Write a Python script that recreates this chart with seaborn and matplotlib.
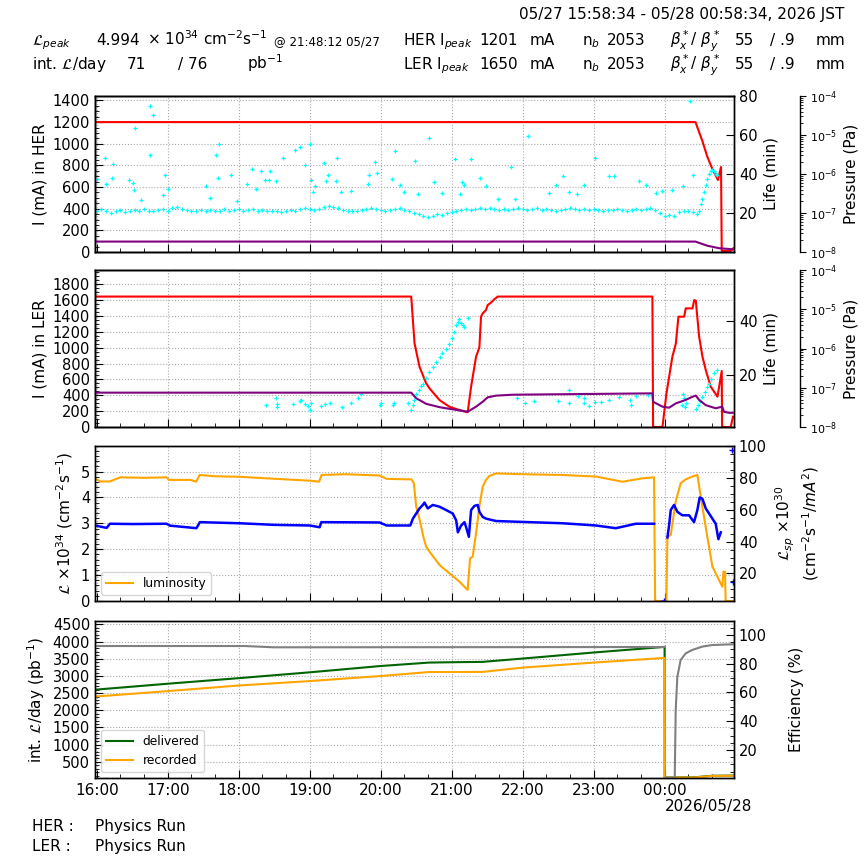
import matplotlib
matplotlib.use('Agg')
import numpy as np
import pandas as pd
import matplotlib.pyplot as plt
import matplotlib.dates as mdates
from matplotlib.ticker import MultipleLocator, AutoMinorLocator, LogLocator
import seaborn as sns

# all times are minutes after 05/27 16:00 (JST)

# --- HER panel ---
HER_CUR_MIN = [-1.5, 506, 512, 516, 520, 525, 527.6, 528.2, 536, 538]
HER_CUR = [1200, 1200, 1020, 880, 775, 665, 785, 10, 10, 35]

HER_PRES_MIN = [-1.5, 506, 516, 526, 538]
HER_PRES = [1.85e-8, 1.85e-8, 1.45e-8, 1.25e-8, 1.17e-8]

HER_LIFE_MIN = [0, 4, 8, 12, 16, 20, 24, 28, 32, 36,
                40, 44, 48, 52, 56, 60, 64, 68, 72, 76,
                80, 84, 88, 92, 96, 100, 104, 108, 112, 116,
                120, 124, 128, 132, 136, 140, 144, 148, 152, 156,
                160, 164, 168, 172, 176, 180, 184, 188, 192, 196,
                200, 204, 208, 212, 216, 220, 224, 228, 232, 236,
                240, 244, 248, 252, 256, 260, 264, 268, 272, 276,
                280, 284, 288, 292, 296, 300, 304, 308, 312, 316,
                320, 324, 328, 332, 336, 340, 344, 348, 352, 356,
                360, 364, 368, 372, 376, 380, 384, 388, 392, 396,
                400, 404, 408, 412, 416, 420, 424, 428, 432, 436,
                440, 444, 448, 452, 456, 460, 464, 468, 472, 476,
                480, 484, 488, 492, 496, 500, 504]
HER_LIFE = [21.0, 22.5, 21.0, 20.0, 21.5, 22.0, 20.5, 21.5, 22.0, 21.0,
            22.5, 21.5, 21.5, 22.0, 22.5, 21.0, 23.0, 23.5, 22.5, 22.0,
            21.5, 21.0, 22.0, 21.5, 22.0, 21.0, 21.5, 22.5, 21.5, 22.0,
            22.5, 21.5, 22.0, 22.5, 21.5, 22.0, 21.0, 21.5, 21.0, 20.5,
            21.0, 22.0, 21.5, 22.5, 23.0, 22.5, 22.0, 22.5, 23.5, 24.0,
            23.5, 23.0, 22.0, 21.5, 21.0, 21.5, 22.0, 22.5, 23.0, 22.5,
            22.0, 21.5, 22.0, 22.5, 23.0, 22.0, 21.0, 20.0, 19.5, 18.5,
            18.0, 18.5, 19.5, 19.0, 20.0, 20.5, 21.5, 22.0, 22.5, 22.0,
            22.5, 23.0, 22.5, 23.0, 22.5, 22.0, 22.5, 22.0, 22.5, 23.0,
            22.5, 22.0, 22.5, 23.0, 22.0, 22.5, 22.0, 21.5, 22.0, 22.5,
            23.0, 22.5, 22.0, 22.5, 22.0, 22.5, 22.0, 21.5, 22.0, 22.0,
            22.5, 22.0, 21.5, 22.0, 22.5, 22.0, 22.5, 23.0, 22.0, 20.0,
            18.5, 19.0, 18.5, 20.5, 21.0, 21.5, 20.5]
HER_OUT_MIN = [0, 7.3, 14, 7.8, 12.9, 32.3, 45.2, 47.8, 45.2, 27.3,
               30.4, 31.5, 37.7, 57.6, 60.4, 56.3, 92, 95.6, 100.7, 103.2,
               102.3, 113.3, 118.6, 126.8, 131.3, 134.4, 138.6, 142, 146, 146.5,
               157.5, 151.3, 167.3, 171.8, 175.8, 180, 180.8, 182.8, 184.8, 192.4,
               194.1, 195.4, 203.3, 202.5, 206.4, 214.6, 229.2, 235.4, 236.8, 230.5,
               249.2, 252.3, 255.9, 260.1, 268.6, 271.4, 281.2, 285.4, 303.2, 316,
               308.5, 310.2, 291.6, 307, 324.3, 329, 350.4, 353.8, 364.2, 388.1,
               393.7, 421, 411.4, 433.1, 437.3, 458.4, 464, 472.5, 478, 486,
               495.8, 501.5, 504.3, 338.9, 382.5, 399.3, 406]
HER_OUT = [37.8, 48.4, 45.3, 35.2, 38.1, 63.9, 74.9, 70.1, 50.1, 36.9,
           35.7, 31.8, 27.0, 39.8, 32.6, 29.2, 33.8, 28.0, 50.1, 55.7,
           38.3, 39.8, 26.2, 34.9, 42.9, 32.3, 41.5, 37.3, 37.3, 41.5,
           48.5, 36.4, 52.6, 53.7, 45.0, 55.7, 37.3, 30.9, 34.2, 46.0,
           36.4, 39.8, 48.4, 36.7, 30.8, 31.3, 35.0, 46.3, 40.5, 39.5,
           37.8, 51.8, 34.4, 30.9, 46.7, 30.1, 58.3, 36.1, 47.7, 47.7,
           36.1, 34.4, 30.6, 29.8, 38.3, 33.8, 43.8, 27.2, 59.5, 34.4,
           39.0, 48.5, 34.4, 39.0, 39.0, 36.4, 34.4, 30.6, 31.3, 32.1,
           34.0, 77.4, 39.5, 27.5, 30.3, 31.0, 29.8]
HER_RISE_MIN = [507.6, 509, 510.4, 511.8, 513.2, 514.7, 516.1, 517.5, 518.9, 520.3, 521.7, 523.1, 524.5]
HER_RISE = [19.8, 21.5, 25.0, 27.5, 30.9, 34.4, 37.8, 40.3, 41.5, 42.0, 41.5, 40.3, 39.5]

# --- LER panel ---
LER_CUR_MIN = [-1.5, 265.8, 268.6, 272.8, 278.4, 281.2, 289.7, 298, 306.5, 313.5,
               316.4, 320.6, 323.4, 324.8, 326.2, 329, 330.4, 333.2, 336, 338.9,
               469.6, 470.2, 478.1, 481.5, 486.5, 489.4, 491.6, 496.4, 497.8, 503.5,
               504.9, 506.3, 509.1, 511.9, 514.7, 518.9, 524.6, 528.2, 528.5, 535.8, 537.7]
LER_CUR = [1645, 1645, 1055, 760, 551, 488, 340, 256, 214, 185,
           509, 887, 1005, 1391, 1433, 1475, 1538, 1568, 1610, 1645,
           1645, 0, 0, 425, 887, 1051, 1391, 1391, 1496, 1496,
           1601, 1593, 1139, 887, 719, 509, 382, 706, 0, 0, 130]

LER_PRES_MIN = [-1.5, 265.8, 270, 278.4, 289.7, 295.3, 313.5, 320.6, 326.2, 330.4,
                337.5, 351.6, 469.6, 470.2, 478.1, 483.7, 489.4, 497.8, 503.5, 506.3,
                509.1, 514.7, 523.1, 528.7, 530.1, 534.3, 537.7]
LER_PRES = [7.5e-8, 7.5e-8, 5.4e-8, 3.9e-8, 3.2e-8, 3.0e-8, 2.45e-8, 3.3e-8, 4.4e-8, 5.7e-8,
            6.3e-8, 6.65e-8, 7.2e-8, 4.4e-8, 3.3e-8, 3.1e-8, 4.0e-8, 4.9e-8, 5.9e-8, 6.3e-8,
            4.9e-8, 3.6e-8, 3.0e-8, 3.3e-8, 2.45e-8, 2.3e-8, 2.3e-8]

LER_RAMP_MIN = [265.8, 267, 268.5, 270, 272, 274, 275.6, 278, 281.2, 284,
                287, 289.7, 292, 295, 298.1, 300, 302, 303.8, 305, 306.5,
                308, 309.4, 310.8, 313.5,
                506.3, 508, 510, 511.9, 514, 516, 517.5, 519.5, 521.7, 524.5]
LER_RAMP = [7.1, 9.0, 11.0, 13.2, 14.5, 16.0, 16.9, 19.0, 21.2, 23.0,
            25.0, 26.7, 28.2, 29.8, 31.6, 33.5, 36.0, 38.4, 39.5, 40.5,
            39.2, 38.4, 37.8, 40.9,
            7.7, 9.0, 10.5, 12.0, 13.8, 15.5, 16.9, 18.5, 20.6, 21.8]
LER_OUT_MIN = [142.8, 151.3, 152.4, 152.7, 165.9, 171.5, 172.9, 175.8, 178.6, 180,
               180.8, 189.8, 192.6, 196.8, 207.2, 214.5, 220.7, 223.5, 239, 240.4,
               250.3, 251.1, 262.9, 354.9, 362.3, 369.3, 389.5, 399.4, 398.8, 407,
               411.4, 412, 415.7, 421.3, 426.1, 433.1, 441.6, 450.8, 451.4, 455.6,
               465.5, 495.5, 496.6, 494.9, 497.8, 497.2]
LER_OUT = [8.9, 11.4, 9.2, 8.3, 9.2, 10.5, 11.0, 9.2, 8.7, 7.3,
           9.6, 8.8, 9.3, 9.6, 8.1, 9.8, 11.4, 12.9, 8.9, 9.8,
           8.9, 9.6, 9.6, 11.6, 9.8, 10.4, 10.4, 14.5, 9.6, 12.3,
           11.6, 9.8, 8.7, 10.0, 10.0, 11.0, 12.0, 10.8, 8.9, 12.3,
           12.7, 12.9, 11.6, 8.9, 9.8, 8.3]

# --- luminosity panel ---
LUM_MIN = [-1.5, 3, 11, 20, 40, 59, 61, 79, 84, 87,
           100, 121, 140, 160, 180, 188, 190, 210, 239, 245,
           266, 268, 270, 273, 276, 278.4, 281.2, 289.7, 298.1, 306.5,
           310.8, 313.5, 315.5, 317.7, 320.6, 323.4, 326.2, 329, 331.8, 337.5,
           360, 393.7, 421.8, 444.3, 461.2, 471, 471.9, 481.4, 482.3, 485.1,
           489.3, 493.5, 497.8, 503.4, 507.6, 511.8, 516, 520.3, 525.9, 528.7,
           529.6, 531, 531.5, 537.7]
LUM = [4.74, 4.62, 4.62, 4.78, 4.76, 4.78, 4.68, 4.68, 4.61, 4.87,
       4.82, 4.80, 4.75, 4.70, 4.65, 4.61, 4.87, 4.90, 4.85, 4.72,
       4.70, 4.55, 3.65, 3.13, 2.49, 2.10, 1.91, 1.39, 1.07, 0.75,
       0.55, 0.43, 1.65, 1.71, 2.62, 3.65, 4.42, 4.68, 4.83, 4.93,
       4.90, 4.87, 4.81, 4.61, 4.74, 4.78, 0, 0, 2.49, 2.55,
       3.84, 4.55, 4.70, 4.81, 4.87, 3.65, 2.49, 1.33, 0.81, 0.55,
       1.13, 1.13, 0, 0]

LSP_MIN = [-1.5, 8.4, 11.2, 30, 59, 62, 76, 84.3, 87.2, 121,
           150, 180, 188.4, 189.8, 239, 245, 265, 267.2, 270, 272.8,
           275.6, 277, 279.8, 284, 289.7, 295.3, 300.9, 303.8, 305.2, 308,
           310.8, 312.2, 314.5, 316.4, 319.2, 322, 323.4, 326.2, 329, 337.5,
           365.6, 393.7, 421.8, 438.7, 455.6, 471]
LSP = [50.1, 48.6, 51.2, 51.0, 51.2, 50.0, 49.0, 48.4, 52.2, 51.5,
       50.5, 50.1, 49.0, 52.2, 52.0, 50.1, 50.1, 54.4, 57.6, 60.8,
       63.0, 64.5, 60.8, 63.0, 61.9, 59.8, 57.6, 53.3, 45.8, 50.1,
       52.2, 49.0, 43.0, 59.8, 62.4, 63.0, 58.7, 55.5, 54.4, 52.9,
       52.2, 51.5, 50.1, 48.4, 51.2, 51.2]
LSP2_MIN = [482.3, 483.7, 485.1, 487.9, 490.7, 494.9, 500.6, 504.8, 507.6, 509.6,
            511.9, 514.7, 517.5, 520.3, 523.1, 525.4, 527.4]
LSP2 = [42.6, 50.1, 59.8, 63.0, 58.7, 56.5, 56.5, 52.2, 59.8, 67.7,
        66.8, 60.8, 57.6, 54.4, 51.2, 41.5, 45.8]
LSP_ISO_MIN = [478.1, 479.0, 537.1, 537.3]
LSP_ISO = [1.7, 2.6, 97.8, 14.6]

# --- integrated luminosity panel ---
INT_MIN = [-1.5, 60, 121, 180, 240, 281, 300, 326, 360, 420, 479.9, 480, 505, 520, 538]
DELIVERED = [2600, 2774, 2939, 3106, 3290, 3390, 3400, 3410, 3507, 3683, 3847, 45, 50, 95, 100]
RECORDED = [2400, 2559, 2725, 2851, 2998, 3115, 3115, 3118, 3243, 3390, 3525, 40, 45, 90, 95]
EFF_MIN = [-1.5, 125, 150, 479.9]
EFF = [92.3, 92.3, 91.4, 91.6]
EFF2_MIN = [480.1, 488, 488.5, 489.3, 490.7, 493.5, 497.8, 503.4, 511.8, 520.3, 537.7]
EFF2 = [0.6, 0.6, 1.4, 47.8, 71.0, 82.6, 87.2, 89.6, 91.9, 93.0, 93.5]

plt.rcParams['font.family'] = ['DejaVu Sans']
plt.rcParams['axes.linewidth'] = 1.0

W = 864
T0 = pd.Timestamp('2026-05-27 16:00:00')
X0 = pd.Timestamp('2026-05-27 15:58:34')
X1 = pd.Timestamp('2026-05-28 00:58:34')


def tt(minutes):
    return T0 + pd.to_timedelta(np.asarray(minutes, dtype=float), unit='m')


def line(ax, mins, vals, color, lw=1.5):
    df = pd.DataFrame({'t': tt(mins), 'v': np.asarray(vals, dtype=float)})
    sns.lineplot(data=df, x='t', y='v', color=color, lw=lw, sort=False,
                 estimator=None, legend=False, ax=ax)
    return ax.lines[-1]


def dots(ax, mins, vals, color, s=10):
    sns.scatterplot(x=tt(mins), y=np.asarray(vals, dtype=float), color=color,
                    marker='+', s=s, linewidth=0.9, legend=False, ax=ax)


def rect(top, bottom):
    return [95 / W, 1 - bottom / W, 639 / W, (bottom - top) / W]


def style_main(ax, ylim, step, label, show_x=False):
    ax.set_xlim(X0, X1)
    ax.set_ylim(*ylim)
    ax.yaxis.set_major_locator(MultipleLocator(step))
    ax.yaxis.set_minor_locator(AutoMinorLocator())
    ax.xaxis.set_major_locator(mdates.HourLocator())
    ax.xaxis.set_minor_locator(mdates.MinuteLocator(byminute=[20, 40]))
    ax.xaxis.set_major_formatter(mdates.DateFormatter('%H:%M'))
    ax.grid(True, which='major', ls=':', color='#aaaaaa', lw=0.8)
    ax.tick_params(which='both', direction='in', labelsize=10.5)
    ax.tick_params(which='major', length=5.5)
    ax.tick_params(which='minor', length=3)
    ax.tick_params(axis='x', labelbottom=show_x, labelsize=11)
    ax.set_xlabel('')
    ax.set_ylabel(label, fontsize=11)


def style_right(ax, ylim, step, label, minor=False, pad=4):
    ax.set_ylim(*ylim)
    ax.yaxis.set_major_locator(MultipleLocator(step))
    if minor:
        ax.yaxis.set_minor_locator(AutoMinorLocator())
    ax.tick_params(which='both', direction='in', labelsize=10.5)
    ax.tick_params(which='major', length=5.5)
    ax.tick_params(which='minor', length=3)
    ax.set_ylabel(label, fontsize=11, labelpad=pad)


def pressure_axis(ax):
    axp = ax.twinx()
    axp.spines['right'].set_position(('axes', 1.103))
    axp.set_yscale('log')
    return axp


def style_pressure(axp):
    axp.set_ylim(1e-8, 1e-4)
    axp.yaxis.set_major_locator(LogLocator(base=10, numticks=10))
    axp.yaxis.set_minor_locator(LogLocator(base=10, subs=np.arange(2, 10), numticks=10))
    axp.tick_params(which='both', direction='out', labelsize=8)
    axp.tick_params(which='major', length=4)
    axp.tick_params(which='minor', length=2)
    axp.set_ylabel('Pressure (Pa)', fontsize=11)


fig = plt.figure(figsize=(8.64, 8.64), dpi=100)

# HER currents
ax1 = fig.add_axes(rect(96, 252))
line(ax1, HER_CUR_MIN, HER_CUR, 'red')
style_main(ax1, (0, 1441), 200, 'I (mA) in HER')
ax1r = ax1.twinx()
dots(ax1r, HER_LIFE_MIN, HER_LIFE, 'cyan')
dots(ax1r, HER_OUT_MIN, HER_OUT, 'cyan')
dots(ax1r, HER_RISE_MIN, HER_RISE, 'cyan')
style_right(ax1r, (0.3, 80), 20, 'Life (min)')
ax1p = pressure_axis(ax1)
line(ax1p, HER_PRES_MIN, HER_PRES, 'purple')
style_pressure(ax1p)

# LER currents
ax2 = fig.add_axes(rect(270, 427))
line(ax2, LER_CUR_MIN, LER_CUR, 'red')
style_main(ax2, (0, 1980), 200, 'I (mA) in LER')
ax2r = ax2.twinx()
dots(ax2r, LER_RAMP_MIN, LER_RAMP, 'cyan')
dots(ax2r, LER_OUT_MIN, LER_OUT, 'cyan')
style_right(ax2r, (0.9, 58.7), 20, 'Life (min)')
ax2p = pressure_axis(ax2)
line(ax2p, LER_PRES_MIN, LER_PRES, 'purple')
style_pressure(ax2p)

# luminosity
ax3 = fig.add_axes(rect(446, 601))
lum_line = line(ax3, LUM_MIN, LUM, 'orange')
style_main(ax3, (0, 5.99), 1, r'$\mathcal{L}$ $\times 10^{34}$ (cm$^{-2}$s$^{-1}$)')
ax3r = ax3.twinx()
line(ax3r, LSP_MIN, LSP, 'blue', lw=1.8)
line(ax3r, LSP2_MIN, LSP2, 'blue', lw=1.8)
sns.scatterplot(x=tt(LSP_ISO_MIN), y=LSP_ISO, color='blue', marker='+', s=14,
                linewidth=1.0, legend=False, ax=ax3r)
style_right(ax3r, (2.7, 100), 20,
            r'$\mathcal{L}_{sp}$ $\times 10^{30}$' + '\n' + r'(cm$^{-2}$s$^{-1}$/$mA^2$)',
            minor=True, pad=5)
ax3r.yaxis.label.set_multialignment('center')
ax3.legend([lum_line], ['luminosity'], loc='lower left', fontsize=8.8, handlelength=2.2)

# integrated luminosity
ax4 = fig.add_axes(rect(621, 778))
del_line = line(ax4, INT_MIN, DELIVERED, 'darkgreen')
rec_line = line(ax4, INT_MIN, RECORDED, 'orange')
style_main(ax4, (30, 4600), 500, r'int. $\mathcal{L}$/day (pb$^{-1}$)', show_x=True)
ax4r = ax4.twinx()
line(ax4r, EFF_MIN, EFF, 'gray')
line(ax4r, EFF2_MIN, EFF2, 'gray')
style_right(ax4r, (0.5, 109.7), 20, 'Efficiency (%)', minor=True, pad=16)
ax4.legend([del_line, rec_line], ['delivered', 'recorded'], loc='lower left',
           fontsize=8.8, handlelength=2.2)


def ftext(x, y, s, size=11, ha='left'):
    fig.text(x / W, 1 - y / W, s, fontsize=size, ha=ha, va='baseline')


ftext(665, 811, '2026/05/28')

# header
ftext(844, 19, '05/27 15:58:34 - 05/28 00:58:34, 2026 JST', ha='right')
ftext(32, 45, r'$\mathcal{L}_{peak}$')
ftext(96, 45, '4.994')
ftext(147, 45, r'$\times$ 10$^{34}$ cm$^{-2}$s$^{-1}$')
ftext(274, 45, '@ 21:48:12 05/27', size=8.5)
ftext(32, 69, r'int. $\mathcal{L}$/day')
ftext(127, 69, '71')
ftext(178, 69, '/ 76')
ftext(247, 69, r'pb$^{-1}$')
for y, ring, cur in [(45, 'HER', '1201'), (69, 'LER', '1650')]:
    ftext(403, y, ring + r' I$_{peak}$')
    ftext(479, y, cur)
    ftext(530, y, 'mA')
    ftext(582, y, r'n$_b$')
    ftext(607, y, '2053')
    ftext(670, y, r'$\beta^*_x$/ $\beta^*_y$')
    ftext(735, y, '55')
    ftext(770, y, '/ .9')
    ftext(816, y, 'mm')

# footer
ftext(32, 831, 'HER :')
ftext(95, 831, 'Physics Run')
ftext(32, 851, 'LER :')
ftext(95, 851, 'Physics Run')

fig.savefig('out.png', dpi=100)
